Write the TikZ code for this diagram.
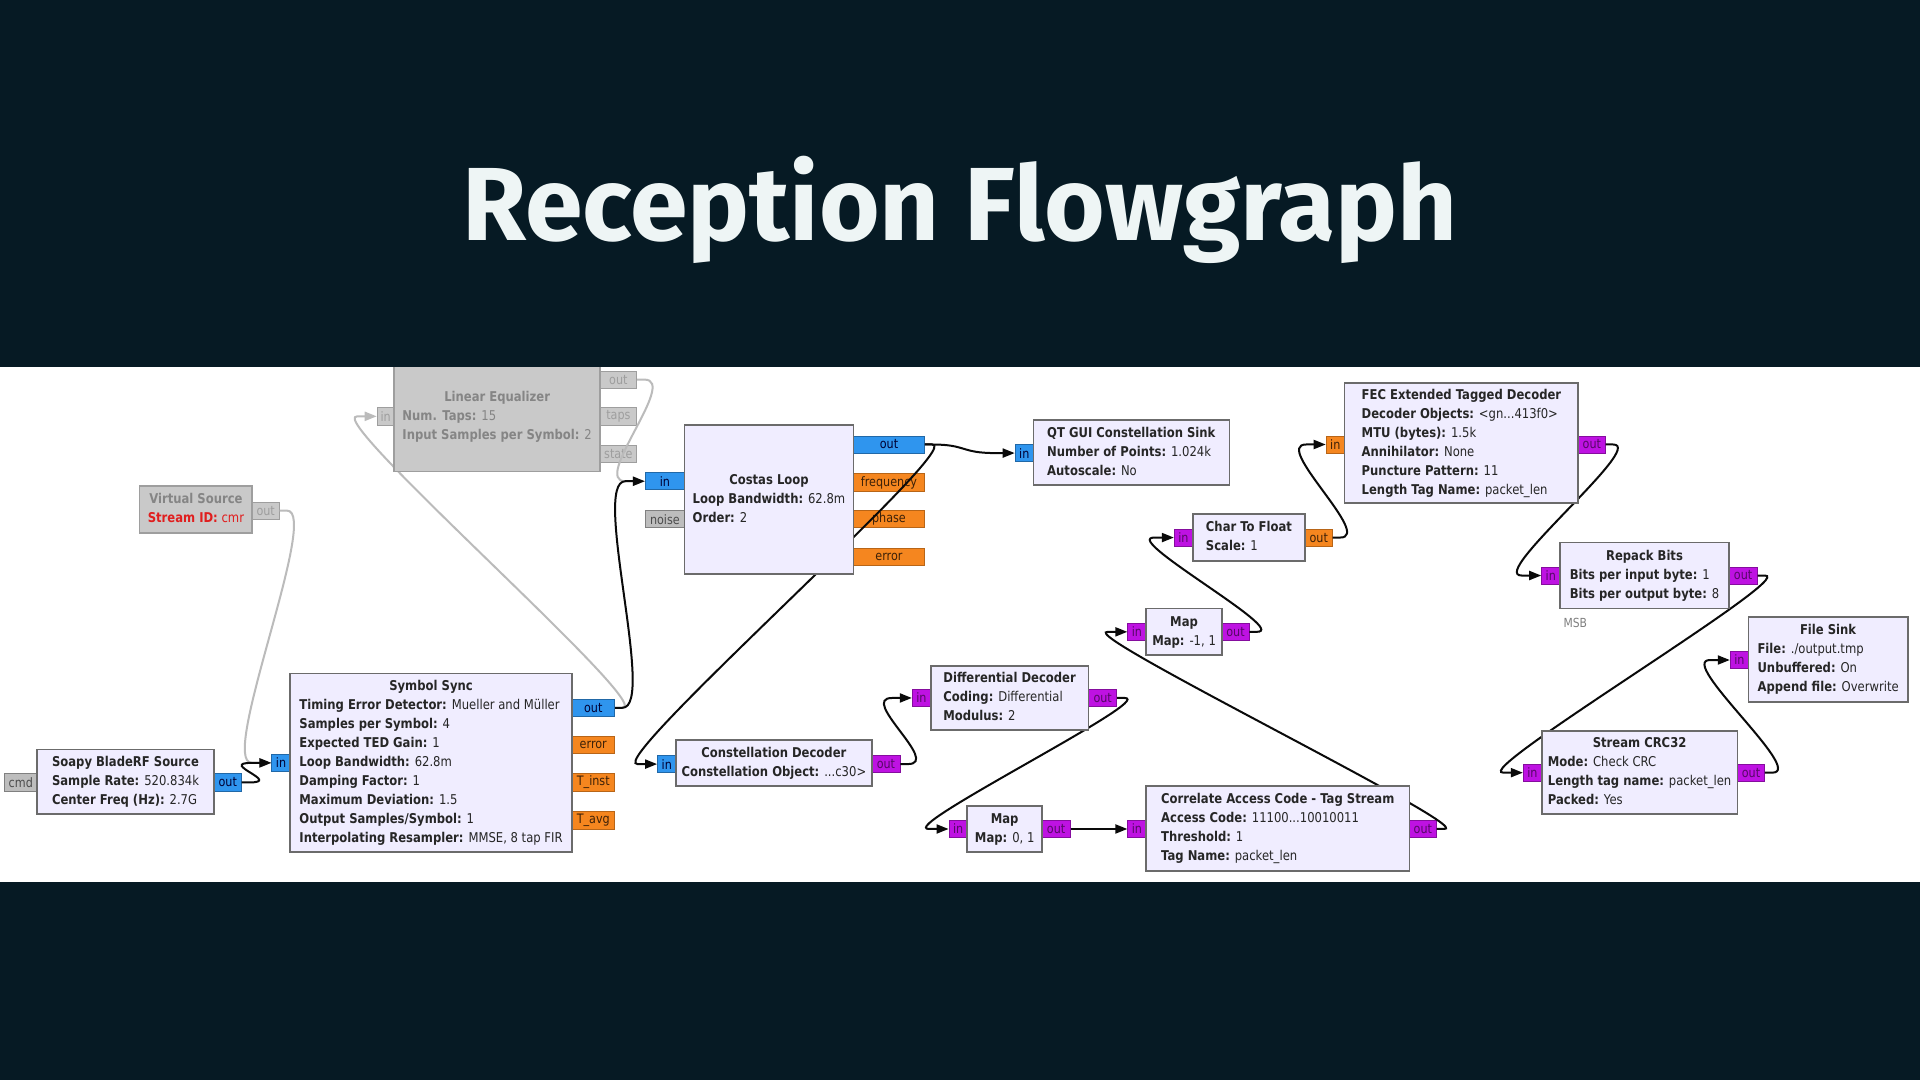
\documentclass[tikz,border=0pt]{standalone}
\usepackage{fontspec}
\usetikzlibrary{calc,fit,arrows.meta}
\newfontfamily\grc[FakeStretch=0.86]{DejaVu Sans}
\newfontfamily\titlefont{Fira Sans}
\definecolor{hdr}{HTML}{061A24}
\definecolor{ttl}{HTML}{EEF5F5}
\definecolor{blkfill}{HTML}{F0EDFF}
\definecolor{blkline}{HTML}{6B6B6B}
\definecolor{disfill}{HTML}{C9C9C9}
\definecolor{disline}{HTML}{9E9E9E}
\definecolor{distext}{HTML}{858585}
\definecolor{pblue}{HTML}{2F95EE}
\definecolor{porange}{HTML}{F5861F}
\definecolor{ppurple}{HTML}{BE12E2}
\definecolor{pgray}{HTML}{BDBDBD}
\definecolor{wirec}{HTML}{0A0A0A}
\definecolor{dwirec}{HTML}{BBBBBB}
\definecolor{redtxt}{HTML}{E01E1E}
\newcommand\kv[2]{\textbf{#1:} #2}
\newcommand\btitle[1]{\multicolumn{1}{@{}c@{}}{\textbf{#1}}}
\tikzset{
  blk/.style={draw=blkline, line width=1.8pt, fill=blkfill, inner sep=0pt},
  dblk/.style={blk, draw=disline, fill=disfill},
  blktxt/.style={inner sep=0pt, font=\grc\fontsize{13.5}{19}\selectfont, text=black!85},
  dblktxt/.style={blktxt, text=distext},
  port/.style={inner sep=0pt, line width=0.8pt},
  pb/.style={port, fill=pblue, draw=pblue!70!black},
  po/.style={port, fill=porange, draw=porange!75!black},
  pp/.style={port, fill=ppurple, draw=ppurple!70!black},
  pm/.style={port, fill=pgray, draw=gray},
  pd/.style={port, fill=disfill, draw=disline},
  plbl/.style={inner sep=0pt, font=\grc\fontsize{13}{14}\selectfont},
  pbtxt/.style={plbl, text=black!80!blue},
  potxt/.style={plbl, text=black!75!porange},
  pptxt/.style={plbl, text=ppurple!45!black},
  pmtxt/.style={plbl, text=black!70},
  pdtxt/.style={plbl, text=disline},
  wire/.style={draw=wirec, line width=2pt, -{Triangle[length=12pt,width=9pt]}},
  dwire/.style={wire, draw=dwirec},
}
\newcommand\conn[3][wire]{\draw[#1] (#2.east) -- ++(6,0) .. controls +(28,0) and +(-28,0) .. ($(#3.west)+(-16,0)$) -- (#3.west);}
\newcommand\port[7]{\node[#1, fit={(#3,#4) (#5,#6)}] (#2) {};\node[#1txt] (#2-l) at (#2.center) {#7};}
\newcommand\gblock[7][blk]{\node[#1, fit={(#3,#4) (#5,#6)}] (#2) {};\node[#1txt] (#2-t) at (#2.center) {\begin{tabular}{@{}l@{}}#7\end{tabular}};}
\begin{document}
\begin{tikzpicture}[x=1.2245pt, y=-1.2245pt]
\useasboundingbox (0,0) rectangle (1568,882);
\fill[hdr] (0,0) rectangle (1568,882);
\fill[white] (0,300) rectangle (1568,720);
\node[font=\titlefont\bfseries\fontsize{104}{110}\selectfont, text=ttl, anchor=base] (title) at (784,196) {Reception Flowgraph};
\begin{scope}
\clip (0,300) rectangle (1568,720);
% ---------- ports
\port{pm}{soapy-cmd}{4}{632}{30}{646}{cmd}
\port{pb}{soapy-out}{175}{632}{197}{646}{out}
\port{pb}{ss-in}{222}{616}{237}{630}{in}
\port{pb}{ss-out}{467}{571}{502}{585}{out}
\port{po}{ss-err}{467}{601}{502}{615}{error}
\port{po}{ss-ti}{467}{632}{502}{646}{T\_inst}
\port{po}{ss-ta}{467}{663}{502}{677}{T\_avg}
\port{pd}{vs-out}{206}{410}{228}{424}{out}
\port{pd}{le-in}{308}{333}{322}{347}{in}
\port{pd}{le-out}{490}{303}{520}{317}{out}
\port{pd}{le-taps}{490}{333}{520}{347}{taps}
\port{pd}{le-state}{490}{364}{520}{378}{state}
\port{pb}{cl-in}{527}{386}{559}{400}{in}
\port{pm}{cl-noise}{527}{417}{559}{431}{noise}
\port{pb}{cl-out}{697}{356}{755}{370}{out}
\port{po}{cl-freq}{697}{387}{755}{401}{frequency}
\port{po}{cl-phase}{697}{417}{755}{431}{phase}
\port{po}{cl-err}{697}{448}{755}{462}{error}
\port{pb}{qt-in}{829}{363}{844}{377}{in}
\port{pb}{cd-in}{537}{617}{552}{631}{in}
\port{pp}{cd-out}{712}{617}{735}{631}{out}
\port{pp}{dd-in}{745}{563}{760}{577}{in}
\port{pp}{dd-out}{889}{563}{912}{577}{out}
\port{pp}{m1-in}{775}{670}{790}{684}{in}
\port{pp}{m1-out}{851}{670}{874}{684}{out}
\port{pp}{cac-in}{921}{670}{936}{684}{in}
\port{pp}{cac-out}{1151}{670}{1173}{684}{out}
\port{pp}{m2-in}{921}{509}{936}{523}{in}
\port{pp}{m2-out}{998}{509}{1020}{523}{out}
\port{pp}{ctf-in}{959}{432}{974}{446}{in}
\port{po}{ctf-out}{1066}{432}{1088}{446}{out}
\port{po}{fec-in}{1083}{356}{1098}{370}{in}
\port{pp}{fec-out}{1289}{356}{1311}{370}{out}
\port{pp}{rb-in}{1259}{463}{1274}{477}{in}
\port{pp}{rb-out}{1412}{463}{1435}{477}{out}
\port{pp}{fs-in}{1413}{532}{1428}{546}{in}
\port{pp}{crc-in}{1244}{624}{1259}{638}{in}
\port{pp}{crc-out}{1419}{624}{1441}{638}{out}
% ---------- connections
\conn[dwire]{vs-out}{ss-in}
\conn[dwire]{ss-out}{le-in}
\conn[dwire]{le-out}{cl-in}
\conn{soapy-out}{ss-in}
\conn{ss-out}{cl-in}
\conn{cl-out}{qt-in}
\conn{cl-out}{cd-in}
\conn{cd-out}{dd-in}
\conn{dd-out}{m1-in}
\conn{m1-out}{cac-in}
\conn{cac-out}{m2-in}
\conn{m2-out}{ctf-in}
\conn{ctf-out}{fec-in}
\conn{fec-out}{rb-in}
\conn{rb-out}{crc-in}
\conn{crc-out}{fs-in}
% ---------- blocks
\gblock{soapy}{30}{612}{175}{665}{\btitle{Soapy BladeRF Source}\\ \kv{Sample Rate}{520.834k}\\ \kv{Center Freq (Hz)}{2.7G}}
\gblock{ss}{237}{550}{467}{696}{\btitle{Symbol Sync}\\
\kv{Timing Error Detector}{Mueller and Müller}\\
\kv{Samples per Symbol}{4}\\
\kv{Expected TED Gain}{1}\\
\kv{Loop Bandwidth}{62.8m}\\
\kv{Damping Factor}{1}\\
\kv{Maximum Deviation}{1.5}\\
\kv{Output Samples/Symbol}{1}\\
\kv{Interpolating Resampler}{MMSE, 8 tap FIR}}
\gblock[dblk]{vs}{114}{397}{206}{435}{\btitle{Virtual Source}\\ \textcolor{redtxt}{\kv{Stream ID}{cmr}}}
\gblock[dblk]{le}{322}{295}{490}{385}{\btitle{Linear Equalizer}\\ \kv{Num. Taps}{15}\\ \kv{Input Samples per Symbol}{2}}
\gblock{cl}{559}{347}{697}{469}{\btitle{Costas Loop}\\ \kv{Loop Bandwidth}{62.8m}\\ \kv{Order}{2}}
\gblock{qt}{844}{343}{1004}{396}{\btitle{QT GUI Constellation Sink}\\ \kv{Number of Points}{1.024k}\\ \kv{Autoscale}{No}}
\gblock{cd}{552}{604}{712}{642}{\btitle{Constellation Decoder}\\ \kv{Constellation Object}{...c30>}}
\gblock{dd}{760}{544}{889}{596}{\btitle{Differential Decoder}\\ \kv{Coding}{Differential}\\ \kv{Modulus}{2}}
\gblock{m1}{790}{658}{851}{696}{\btitle{Map}\\ \kv{Map}{0, 1}}
\gblock{cac}{936}{642}{1151}{711}{\btitle{Correlate Access Code - Tag Stream}\\ \kv{Access Code}{11100...10010011}\\ \kv{Threshold}{1}\\ \kv{Tag Name}{packet\_len}}
\gblock{m2}{936}{497}{998}{535}{\btitle{Map}\\ \kv{Map}{-1, 1}}
\gblock{ctf}{974}{420}{1066}{458}{\btitle{Char To Float}\\ \kv{Scale}{1}}
\gblock{fec}{1098}{313}{1289}{411}{\btitle{FEC Extended Tagged Decoder}\\ \kv{Decoder Objects}{<gn...413f0>}\\ \kv{MTU (bytes)}{1.5k}\\ \kv{Annihilator}{None}\\ \kv{Puncture Pattern}{11}\\ \kv{Length Tag Name}{packet\_len}}
\gblock{rb}{1274}{443}{1412}{497}{\btitle{Repack Bits}\\ \kv{Bits per input byte}{1}\\ \kv{Bits per output byte}{8}}
\node[font=\grc\fontsize{12.5}{14}\selectfont, text=gray, anchor=west] (msb) at (1274,509) {MSB};
\gblock{fs}{1428}{504}{1558}{573}{\btitle{File Sink}\\ \kv{File}{./output.tmp}\\ \kv{Unbuffered}{On}\\ \kv{Append file}{Overwrite}}
\gblock{crc}{1259}{597}{1419}{665}{\btitle{Stream CRC32}\\ \kv{Mode}{Check CRC}\\ \kv{Length tag name}{packet\_len}\\ \kv{Packed}{Yes}}
\end{scope}
\end{tikzpicture}
\end{document}
